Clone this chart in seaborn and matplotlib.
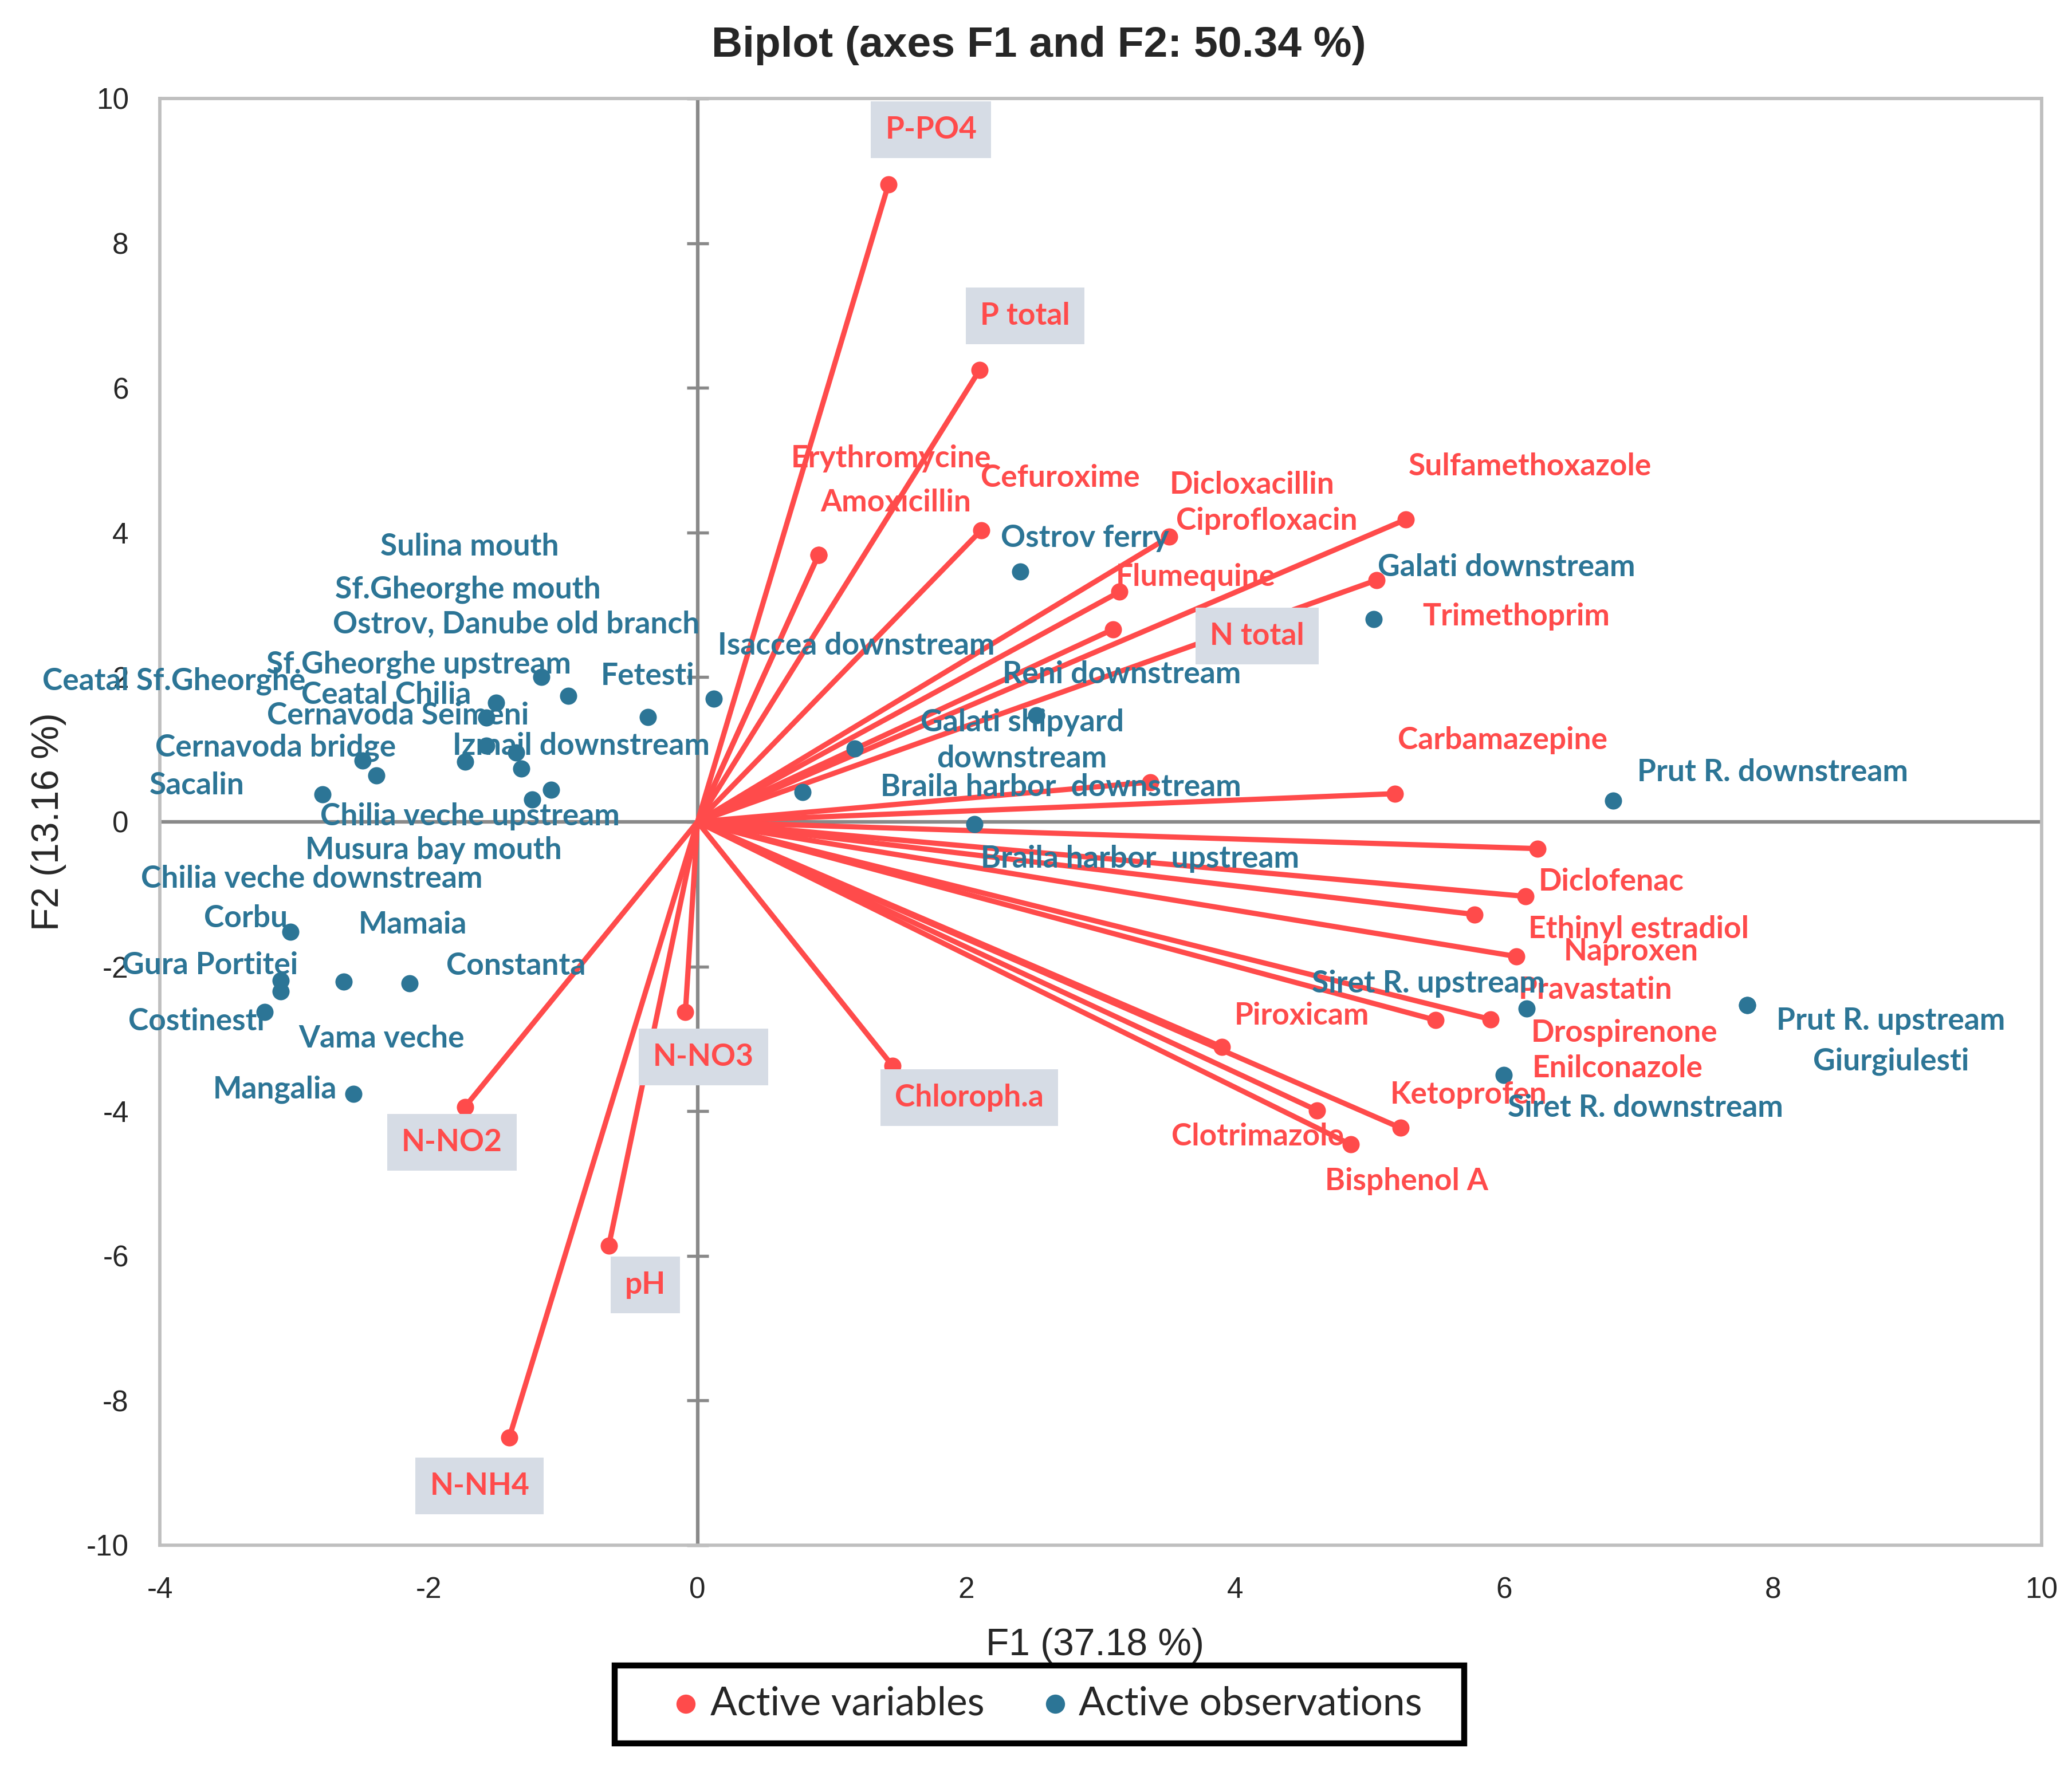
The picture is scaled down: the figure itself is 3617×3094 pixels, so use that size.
import numpy as np
import pandas as pd
import matplotlib
matplotlib.use("Agg")
import matplotlib.pyplot as plt
from matplotlib.lines import Line2D
from matplotlib.patches import Rectangle
import seaborn as sns

# 변수 (active variables)
var_names = ["P-PO4", "P total", "Erythromycine", "Amoxicillin", "Cefuroxime", "Dicloxacillin",
             "Ciprofloxacin", "Flumequine", "N total", "Sulfamethoxazole", "Trimethoprim",
             "Carbamazepine", "Diclofenac", "Ethinyl estradiol", "Naproxen", "Pravastatin",
             "Drospirenone", "Enilconazole", "Piroxicam", "Ketoprofen", "Clotrimazole",
             "Bisphenol A", "Chloroph.a", "N-NO3", "N-NO2", "pH", "N-NH4"]
var_f1 = [1.42, 2.10, 0.90, 0.90, 2.11, 3.51, 3.14, 3.09, 3.37, 5.27, 5.05, 5.19, 6.25, 6.16,
          5.78, 6.09, 5.90, 5.49, 3.90, 5.23, 4.61, 4.86, 1.45, -0.09, -1.73, -0.66, -1.40]
var_f2 = [8.81, 6.25, 3.69, 3.69, 4.03, 3.94, 3.18, 2.66, 0.55, 4.18, 3.34, 0.39, -0.37, -1.03,
          -1.28, -1.86, -2.73, -2.74, -3.11, -4.23, -3.99, -4.46, -3.37, -2.63, -3.94, -5.86, -8.51]
boxed_vars = ["P-PO4", "P total", "N total", "Chloroph.a", "N-NO3", "N-NO2", "pH", "N-NH4"]

# 관측치 (active observations)
obs_names = ["Sulina mouth", "Sf.Gheorghe mouth", "Ostrov, Danube old branch", "Sf.Gheorghe upstream",
             "Ceatal Sf.Gheorghe", "Ceatal Chilia", "Cernavoda Seimeni", "Cernavoda bridge",
             "Izmail downstream", "Sacalin", "Chilia veche upstream", "Musura bay mouth",
             "Chilia veche downstream", "Fetesti", "Isaccea downstream", "Corbu", "Gura Portitei",
             "Vama veche", "Costinesti", "Mamaia", "Constanta", "Mangalia", "Ostrov ferry",
             "Galati downstream", "Reni downstream", "Galati shipyard\ndownstream",
             "Braila harbor  downstream", "Braila harbor  upstream", "Prut R. downstream",
             "Siret R. upstream", "Prut R. upstream", "Giurgiulesti", "Siret R. downstream"]
obs_f1 = [-1.16, -1.50, -0.96, -1.57, -2.49, -1.57, -1.73, -2.39, -1.35, -2.79, -1.23, -1.09, -1.31,
          -0.37, 0.12, -3.03, -3.10, -3.10, -3.22, -2.63, -2.14, -2.56, 2.40, 5.03, 2.52, 1.17,
          0.78, 2.06, 6.81, 6.17, 7.81, 7.81, 6.00]
obs_f2 = [2.00, 1.65, 1.74, 1.44, 0.85, 1.05, 0.83, 0.64, 0.96, 0.38, 0.31, 0.44, 0.74, 1.45, 1.70,
          -1.52, -2.19, -2.34, -2.63, -2.21, -2.23, -3.76, 3.46, 2.80, 1.47, 1.01, 0.41, -0.03,
          0.29, -2.58, -2.53, -2.53, -3.50]

# 라벨 위치 오프셋 (points)
var_lab_dx = [17.9, 18.9, 30.4, 32.4, 33.2, 34.7, 61.7, 34.6, 44.6, 52.0, 58.7, 45.1, 30.8, 47.5,
              65.6, 33.3, 56.0, 76.4, 33.5, 28.6, -25.0, 23.4, 32.1, 7.6, -5.5, 15.3, -12.4]
var_lab_dy = [23.0, 22.6, 40.4, 21.9, 21.9, 21.9, 29.8, 21.9, 61.2, 22.2, -15.1, 22.4, -13.9, -13.7,
              -15.5, -14.1, -5.7, -20.3, 13.1, 13.8, -10.9, -15.3, -13.4, -18.8, -14.9, -16.5, -20.4]
obs_lab_dx = [-30.1, -11.6, -21.9, -28.3, -79.2, -42.0, -28.0, -42.2, 27.4, -52.5, -26.0, -49.1,
              -87.8, 0.0, 59.7, -18.6, -29.6, 42.1, -28.7, 28.8, 44.4, -32.9, 27.2, 55.7, 35.8,
              70.1, 108.4, 69.5, 67.0, -41.1, 60.2, 60.2, 59.3]
obs_lab_dy = [54.7, 47.4, 30.2, 22.3, 33.2, 21.3, 19.3, 11.8, 2.6, 3.8, -7.2, -25.3, -46.4, 17.1,
              22.3, 5.6, 6.3, -19.9, -4.0, 23.9, 7.2, 1.8, 14.1, 21.9, 17.3, 3.5, 2.0, -14.5,
              11.9, 10.3, -6.8, -23.6, -13.9]

x_ticks = [-4, -2, 0, 2, 4, 6, 8, 10]
y_ticks = [-10, -8, -6, -4, -2, 0, 2, 4, 6, 8, 10]

RED = "#FF4B4B"
BLUE = "#2C7596"
BOX = "#D6DCE5"
LABEL_FONT = ["Lato", "DejaVu Sans"]
LABEL_SIZE = 12.8

sns.set_style("white")
plt.rcParams['font.family'] = ['Liberation Sans', 'DejaVu Sans']
plt.rcParams['axes.unicode_minus'] = False

df_var = pd.DataFrame({"F1": var_f1, "F2": var_f2, "name": var_names})
df_obs = pd.DataFrame({"F1": obs_f1, "F2": obs_f2, "name": obs_names})

fig = plt.figure(figsize=(3617 / 300, 3094 / 300), dpi=300)
ax = fig.add_axes([0.07714, 0.12799, 0.90821, 0.81642])

# 0 축선
ax.axhline(0, color="#898989", lw=1.5, zorder=1)
ax.axvline(0, color="#898989", lw=1.5, zorder=1)
ax.plot(np.zeros(len(y_ticks)), y_ticks, linestyle="none", marker="_", ms=9, mew=1.3,
        color="#898989", zorder=1, clip_on=False)

# 변수 벡터
for x, y in zip(df_var["F1"], df_var["F2"]):
    ax.plot([0, x], [0, y], color=RED, lw=2.2, solid_capstyle="round", zorder=2)

sns.scatterplot(data=df_var, x="F1", y="F2", color=RED, s=52, linewidth=0, ax=ax, zorder=3)
sns.scatterplot(data=df_obs, x="F1", y="F2", color=BLUE, s=52, linewidth=0, ax=ax, zorder=4)

for i, row in df_var.iterrows():
    kw = {}
    if row["name"] in boxed_vars:
        kw["bbox"] = dict(boxstyle="square,pad=0.47", facecolor=BOX, edgecolor="none")
    ax.annotate(row["name"], (row["F1"], row["F2"]), xytext=(var_lab_dx[i], var_lab_dy[i]),
                textcoords="offset points", ha="center", va="center", color=RED,
                fontsize=LABEL_SIZE, fontweight="bold", family=LABEL_FONT, zorder=6, **kw)

for i, row in df_obs.iterrows():
    ax.annotate(row["name"], (row["F1"], row["F2"]), xytext=(obs_lab_dx[i], obs_lab_dy[i]),
                textcoords="offset points", ha="center", va="center", color=BLUE,
                fontsize=LABEL_SIZE, fontweight="bold", family=LABEL_FONT, zorder=6,
                linespacing=1.35)

ax.set_xlim(-4, 10)
ax.set_ylim(-10, 10)
ax.set_xticks(x_ticks)
ax.set_yticks(y_ticks)
ax.tick_params(length=0, pad=13, labelsize=12.3)
for s in ax.spines.values():
    s.set_color("#BFBFBF")
    s.set_linewidth(1.4)

ax.set_xlabel("F1 (37.18 %)", fontsize=15.8)
ax.set_ylabel("F2 (13.16 %)", fontsize=15.8)
ax.xaxis.label.set_va("center")
ax.yaxis.label.set_va("center")
ax.xaxis.set_label_coords(0.497, -0.0693)
ax.yaxis.set_label_coords(-0.0591, 0.5)

fig.text(0.5013, 1 - 80 / 3094, "Biplot (axes F1 and F2: 50.34 %)", ha="center", va="center",
         fontsize=18, fontweight="bold")

# 범례 (수동 구성)
fig.add_artist(Rectangle((0.2967, 0.01616), 0.4100, 0.04396, transform=fig.transFigure,
                         facecolor="white", edgecolor="black", lw=2.5))
leg_y = 0.0385
fig.add_artist(Line2D([0.3309], [leg_y], transform=fig.transFigure, marker="o", ms=7,
                      color=RED, linestyle="none"))
fig.add_artist(Line2D([0.5093], [leg_y], transform=fig.transFigure, marker="o", ms=7,
                      color=BLUE, linestyle="none"))
fig.text(0.3428, leg_y, "Active variables", ha="left", va="center", fontsize=16.6,
         family=LABEL_FONT)
fig.text(0.5206, leg_y, "Active observations", ha="left", va="center", fontsize=16.6,
         family=LABEL_FONT)

fig.savefig("out.png", dpi=300)
